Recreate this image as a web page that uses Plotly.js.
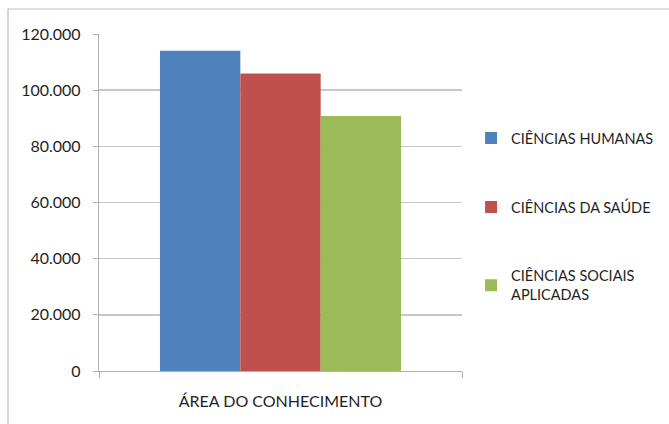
<!DOCTYPE html>
<html>
<head>
<meta charset="utf-8">
<script src="https://cdn.plot.ly/plotly-3.0.1.min.js"></script>
<style>html,body{margin:0;padding:0;background:#fff;}#chart{width:669px;height:424px;}</style>
</head>
<body>
<div id="chart"></div>
<script>
var category = ['ÁREA DO CONHECIMENTO'];
var seriesNames = ['CIÊNCIAS HUMANAS', 'CIÊNCIAS DA SAÚDE', 'CIÊNCIAS SOCIAIS<br>APLICADAS'];
var humanas = [114000];
var saude = [105900];
var sociais = [90800];
var yTicks = [0, 20000, 40000, 60000, 80000, 100000, 120000];

var colors = ['#4F81BD', '#C0504D', '#9BBB59'];
var values = [humanas, saude, sociais];

var traces = values.map(function (v, i) {
  return {
    type: 'bar',
    x: category,
    y: v,
    name: seriesNames[i],
    legendgroup: 'g' + i,
    marker: { color: colors[i] },
    hoverinfo: 'none'
  };
});

var layout = {
  width: 669,
  height: 424,
  margin: { l: 99, r: 207, t: 34, b: 53, autoexpand: false },
  paper_bgcolor: '#ffffff',
  plot_bgcolor: '#ffffff',
  separators: ',.',
  font: { family: 'Lato, "Open Sans", sans-serif', size: 16, color: '#1f1f1f' },
  barmode: 'group',
  bargap: 0.336,
  bargroupgap: 0,
  showlegend: true,
  legend: {
    x: 1.025, xanchor: 'left',
    y: 0.458, yanchor: 'middle',
    traceorder: 'grouped',
    tracegroupgap: 47,
    font: { size: 14.5, color: '#1f1f1f' },
    itemwidth: 30
  },
  xaxis: {
    type: 'category',
    showline: true,
    linecolor: '#b0b0b0',
    linewidth: 1.2,
    ticks: 'outside',
    tickson: 'boundaries',
    ticklen: 6,
    tickcolor: '#b0b0b0',
    showgrid: false,
    ticklabelstandoff: 16,
    tickfont: { size: 16 },
    fixedrange: true
  },
  yaxis: {
    range: [0, 120000],
    tickvals: yTicks,
    tickformat: ',d',
    showline: true,
    linecolor: '#b0b0b0',
    linewidth: 1.2,
    ticks: 'outside',
    ticklen: 5,
    tickcolor: '#b0b0b0',
    showgrid: true,
    gridcolor: '#c8c8c8',
    gridwidth: 1.4,
    zeroline: false,
    ticklabelstandoff: 9,
    tickfont: { size: 16 },
    fixedrange: true
  },
  shapes: [{
    type: 'rect', xref: 'paper', yref: 'paper',
    x0: -0.2507, x1: 1.6, y0: -0.2, y1: 1.0742,
    line: { color: '#bdbdbd', width: 1.2 },
    fillcolor: 'rgba(0,0,0,0)', layer: 'below'
  }]
};

Plotly.newPlot('chart', traces, layout, { staticPlot: true, displayModeBar: false });
</script>
</body>
</html>
